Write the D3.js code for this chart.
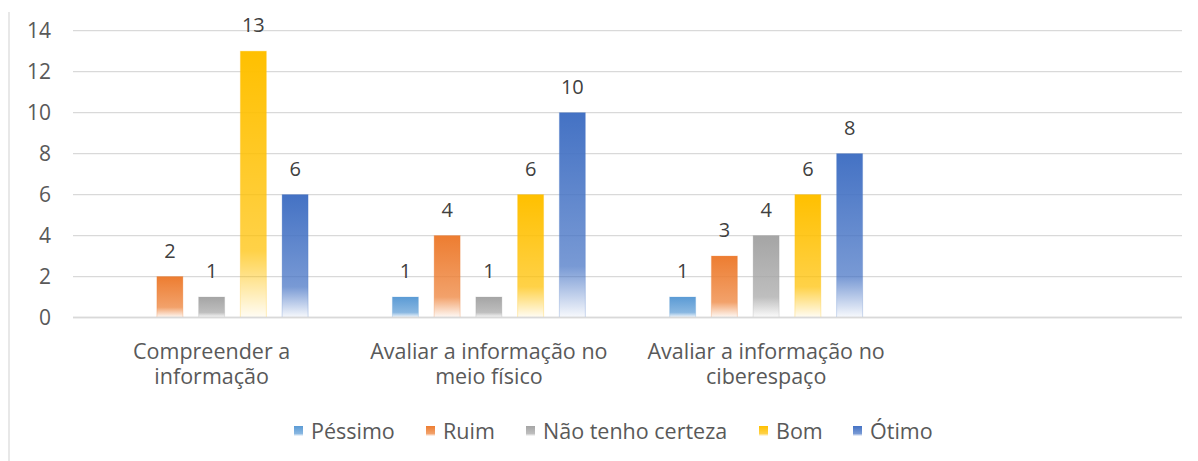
<!DOCTYPE html>
<html>
<head>
<meta charset="utf-8">
<script src="https://cdn.jsdelivr.net/npm/d3@7"></script>
<style>
  html, body { margin: 0; padding: 0; background: #ffffff; }
  svg { display: block; font-family: "Open Sans", sans-serif; }
</style>
</head>
<body>
<svg id="chart" width="1198" height="461"></svg>
<script>
const categories = [
  ["Compreender a", "informação"],
  ["Avaliar a informação no", "meio físico"],
  ["Avaliar a informação no", "ciberespaço"],
  ["", ""]
];
const series = ["Péssimo", "Ruim", "Não tenho certeza", "Bom", "Ótimo"];
const colors = ["#5B9BD5", "#ED7D31", "#A5A5A5", "#FFC000", "#4472C4"];
const values = {
  "Péssimo":           [0, 1, 1, null],
  "Ruim":              [2, 4, 3, null],
  "Não tenho certeza": [1, 1, 4, null],
  "Bom":               [13, 6, 6, null],
  "Ótimo":             [6, 10, 8, null]
};
const yTicks = [0, 2, 4, 6, 8, 10, 12, 14];

const svg = d3.select("#chart");
const plotLeft = 73, plotRight = 1182, plotTop = 30.7, plotBottom = 317.5;

const x0 = d3.scaleBand().domain(d3.range(categories.length))
  .range([plotLeft, plotRight]).paddingInner(0.304).paddingOuter(0.152);
const x1 = d3.scaleBand().domain(series).range([0, x0.bandwidth()])
  .paddingInner(0.377).paddingOuter(0);
const y = d3.scaleLinear().domain([0, 14]).range([plotBottom, plotTop]);

// outer left border
svg.append("line").attr("x1", 9).attr("x2", 9).attr("y1", 12).attr("y2", 461)
  .attr("stroke", "#d9d9d9").attr("stroke-width", 1.2);

// gradients
const defs = svg.append("defs");
series.forEach((s, i) => {
  const g = defs.append("linearGradient").attr("id", "g" + i)
    .attr("x1", 0).attr("y1", 0).attr("x2", 0).attr("y2", 1);
  g.append("stop").attr("offset", "0%").attr("stop-color", colors[i]).attr("stop-opacity", 1);
  g.append("stop").attr("offset", "75%").attr("stop-color", colors[i]).attr("stop-opacity", 0.72);
  g.append("stop").attr("offset", "100%").attr("stop-color", colors[i]).attr("stop-opacity", 0.04);
});

// gridlines
svg.append("g").selectAll("line").data(yTicks).join("line")
  .attr("x1", plotLeft).attr("x2", plotRight)
  .attr("y1", d => y(d)).attr("y2", d => y(d))
  .attr("stroke", "#d9d9d9").attr("stroke-width", 1.3);

// y axis labels
const yAxis = d3.axisLeft(y).tickValues(yTicks).tickSize(0).tickPadding(0);
const ya = svg.append("g").attr("transform", `translate(51,0)`).call(yAxis);
ya.select(".domain").remove();
ya.selectAll("text").attr("font-size", 21).attr("fill", "#595959")
  .attr("font-family", "'Open Sans', sans-serif");

// bars
const groups = svg.append("g").selectAll("g").data(d3.range(categories.length)).join("g")
  .attr("transform", d => `translate(${x0(d)},0)`);

groups.each(function(ci) {
  const g = d3.select(this);
  series.forEach((s, si) => {
    const v = values[s][ci];
    if (v === null || v === 0) return;
    g.append("rect")
      .attr("x", x1(s)).attr("width", x1.bandwidth())
      .attr("y", y(v)).attr("height", y(0) - y(v))
      .attr("fill", `url(#g${si})`)
      .attr("stroke", colors[si]).attr("stroke-opacity", 0.25).attr("stroke-width", 1);
    g.append("text")
      .attr("x", x1(s) + x1.bandwidth() / 2).attr("y", y(v) - 19)
      .attr("text-anchor", "middle").attr("font-size", 20).attr("fill", "#404040")
      .text(v);
  });
});

// baseline
svg.append("line").attr("x1", plotLeft).attr("x2", plotRight).attr("y1", y(0)).attr("y2", y(0))
  .attr("stroke", "#d9d9d9").attr("stroke-width", 1.5);

// category labels
const cl = svg.append("g").selectAll("text").data(d3.range(categories.length)).join("text")
  .attr("x", d => x0(d) + x0.bandwidth() / 2)
  .attr("text-anchor", "middle").attr("font-size", 21.5).attr("fill", "#595959");
cl.each(function(ci) {
  const t = d3.select(this);
  categories[ci].forEach((line, li) => {
    t.append("tspan").attr("x", x0(ci) + x0.bandwidth() / 2)
      .attr("y", 359 + li * 25).text(line);
  });
});

// legend
const legendX = [294, 426, 526, 759, 853];
const lg = svg.append("g").selectAll("g").data(series).join("g")
  .attr("transform", (d, i) => `translate(${legendX[i]},0)`);
lg.append("rect").attr("x", 0).attr("y", 426).attr("width", 9).attr("height", 10)
  .attr("fill", (d, i) => `url(#g${i})`);
lg.append("text").attr("x", 17).attr("y", 439).attr("font-size", 21.5).attr("fill", "#595959")
  .text(d => d);
</script>
</body>
</html>
